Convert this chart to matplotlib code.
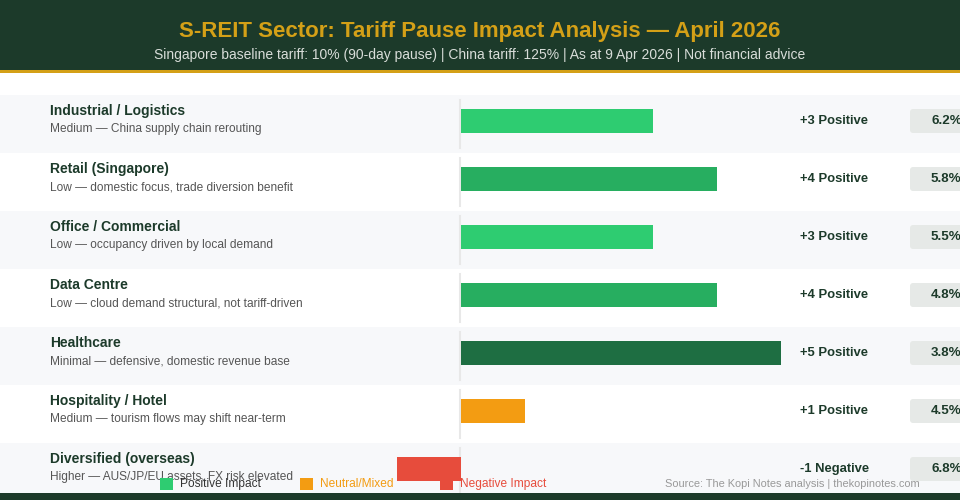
import matplotlib.pyplot as plt
from matplotlib.patches import Rectangle, FancyBboxPatch

plt.rcParams['font.family'] = ['Liberation Sans', 'DejaVu Sans']

# data
sectors = ['Industrial / Logistics', 'Retail (Singapore)', 'Office / Commercial',
           'Data Centre', 'Healthcare', 'Hospitality / Hotel', 'Diversified (overseas)']
notes = ['Medium \u2014 China supply chain rerouting',
         'Low \u2014 domestic focus, trade diversion benefit',
         'Low \u2014 occupancy driven by local demand',
         'Low \u2014 cloud demand structural, not tariff-driven',
         'Minimal \u2014 defensive, domestic revenue base',
         'Medium \u2014 tourism flows may shift near-term',
         'Higher \u2014 AUS/JP/EU assets, FX risk elevated']
scores = [3, 4, 3, 4, 5, 1, -1]
verdicts = ['Positive', 'Positive', 'Positive', 'Positive', 'Positive', 'Positive', 'Negative']
yields = [6.2, 5.8, 5.5, 4.8, 3.8, 4.5, 6.8]

score_colors = {5: '#1e6e42', 4: '#27ae60', 3: '#2ecc71', 2: '#2ecc71',
                1: '#f39c12', 0: '#f39c12', -1: '#e74c3c'}

DARK = '#1c3a2a'
GOLD = '#d4a017'
W, H = 960, 500
ROW_TOP = 95
ROW_H = 58

fig = plt.figure(figsize=(9.6, 5.0), dpi=100)
ax = fig.add_axes([0, 0, 1, 1])
ax.set_xlim(0, W)
ax.set_ylim(H, 0)
ax.axis('off')

# header
ax.add_patch(Rectangle((0, 0), W, 70, color=DARK, lw=0))
ax.add_patch(Rectangle((0, 70), W, 3, color=GOLD, lw=0))
ax.text(W / 2, 32, 'S-REIT Sector: Tariff Pause Impact Analysis \u2014 April 2026',
        color=GOLD, fontsize=16, fontweight='bold', ha='center', va='center')
ax.text(W / 2, 55, 'Singapore baseline tariff: 10% (90-day pause) | China tariff: 125% | '
        'As at 9 Apr 2026 | Not financial advice',
        color='#d8ddd9', fontsize=10, ha='center', va='center')

# rows
for i in range(len(sectors)):
    top = ROW_TOP + i * ROW_H
    bg = '#f7f8fa' if i % 2 == 0 else 'white'
    ax.add_patch(Rectangle((0, top), W, ROW_H, color=bg, lw=0, zorder=0))
    ax.plot([460, 460], [top + 5, top + ROW_H - 5], color='#e8e8e8', lw=1.5, zorder=1)
    ax.text(50, top + 16, sectors[i], color=DARK, fontsize=10, fontweight='bold',
            va='center', ha='left')
    ax.text(50, top + 34, notes[i], color='#555555', fontsize=8.6, va='center', ha='left')
    ax.text(800, top + 26, '%+d %s' % (scores[i], verdicts[i]), color=DARK,
            fontsize=9.4, fontweight='bold', va='center', ha='left')
    ax.add_patch(FancyBboxPatch((910, top + 14), 60, 24,
                                boxstyle='round,pad=0,rounding_size=3',
                                fc='#e6e9e7', ec='none', zorder=2))
    ax.text(931, top + 26, '%.1f%%' % yields[i], color=DARK, fontsize=9.6,
            fontweight='bold', va='center', ha='left', zorder=3)

# bottom band
ax.add_patch(Rectangle((0, 493), W, 7, color=DARK, lw=0, zorder=4))

# bars: axis from score -1 (x=396) to 5 (x=780), zero just right of divider
bx = fig.add_axes([397 / W, (H - ROW_TOP - 7 * ROW_H) / H, 384 / W, 7 * ROW_H / H])
bx.set_xlim(-1, 5)
bx.set_ylim(7, 0)
bx.axis('off')
bx.patch.set_alpha(0)
ypos = [i + 26 / ROW_H for i in range(len(sectors))]
bx.barh(ypos, scores, height=24 / ROW_H, color=[score_colors[s] for s in scores],
        zorder=2)

# legend and source
ax2 = fig.add_axes([0, 0, 1, 1])
ax2.set_xlim(0, W)
ax2.set_ylim(H, 0)
ax2.axis('off')
ax2.patch.set_alpha(0)
legend = [('Positive Impact', '#2ecc71', '#333333', 160),
          ('Neutral/Mixed', '#f39c12', '#f39c12', 300),
          ('Negative Impact', '#e74c3c', '#e74c3c', 440)]
for lab, sq, tc, x0 in legend:
    ax2.add_patch(Rectangle((x0, 478), 13, 12, color=sq, lw=0))
    ax2.text(x0 + 20, 484, lab, color=tc, fontsize=8.6, va='center', ha='left')
ax2.text(920, 484, 'Source: The Kopi Notes analysis | thekopinotes.com',
         color='#999999', fontsize=7.9, va='center', ha='right')

fig.savefig('out.png', dpi=100)
